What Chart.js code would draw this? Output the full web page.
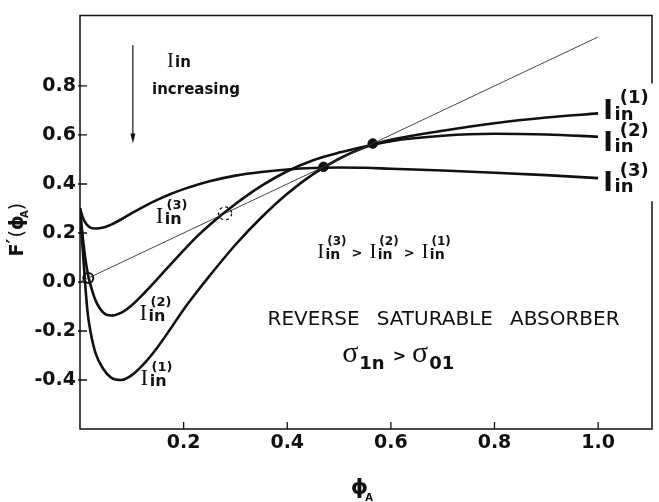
<!DOCTYPE html>
<html lang="en">
<head>
<meta charset="UTF-8">
<title>Reverse saturable absorber</title>
<script src="https://cdn.jsdelivr.net/npm/chart.js"></script>
<style>
  html, body { margin: 0; padding: 0; background: #fff; }
</style>
</head>
<body>
<canvas id="graph" width="659" height="502"></canvas>
<script>
// phi_A sample points shared by the three curves
const phi = [0, 0.005, 0.01, 0.015, 0.02, 0.03, 0.045, 0.06, 0.08, 0.1, 0.125, 0.15, 0.175, 0.2,
  0.225, 0.25, 0.3, 0.35, 0.4, 0.45, 0.5, 0.55, 0.6, 0.7, 0.8, 0.9, 1.0];
// F'(phi_A) for the three input intensities
const fIn1 = [0.30, 0.14, -0.01, -0.13, -0.20, -0.29, -0.355, -0.39, -0.40, -0.38, -0.33, -0.265, -0.19, -0.112,
  -0.042, 0.025, 0.152, 0.263, 0.36, 0.44, 0.503, 0.55, 0.58, 0.617, 0.648, 0.671, 0.688];
const fIn2 = [0.30, 0.19, 0.10, 0.035, -0.01, -0.075, -0.125, -0.137, -0.125, -0.095, -0.043, 0.014, 0.072, 0.129,
  0.184, 0.233, 0.318, 0.392, 0.452, 0.497, 0.528, 0.553, 0.575, 0.597, 0.605, 0.602, 0.593];
const fIn3 = [0.30, 0.265, 0.243, 0.23, 0.222, 0.218, 0.222, 0.234, 0.256, 0.281, 0.31, 0.336, 0.359, 0.379,
  0.396, 0.411, 0.434, 0.449, 0.459, 0.465, 0.467, 0.466, 0.462, 0.455, 0.446, 0.436, 0.424];
// the line F' = phi_A and the marked crossings on it
const diagonal = [0, 1.0];
const stablePoints = [0.47, 0.565];
const openPoint = [0.016];
const unstablePoint = [0.28];
const xTicks = [0.2, 0.4, 0.6, 0.8, 1.0];
const yTicks = [-0.4, -0.2, 0.0, 0.2, 0.4, 0.6, 0.8];

const ink = '#111';
const SANS = '"DejaVu Sans"';
const SERIF = '"Liberation Serif"';

function put(ctx, text, font, x, y) {
  ctx.font = font;
  ctx.fillText(text, x, y);
  return x + ctx.measureText(text).width;
}

// I with "in" as subscript and (k) stacked above it
function iLabel(ctx, x, y, k, s, serif, supScale = 0.55, supDx = 0.08, supDy = 0.62) {
  const iFont = serif ? `${s}px ${SERIF}` : `bold ${s}px ${SANS}`;
  const x1 = put(ctx, 'I', iFont, x, y) + s * 0.06;
  const x2 = put(ctx, 'in', `bold ${Math.round(s * 0.68)}px ${SANS}`, x1, y + s * 0.04);
  const x3 = put(ctx, `(${k})`, `bold ${Math.round(s * supScale)}px ${SANS}`, x1 + s * supDx, y - s * supDy);
  return Math.max(x2, x3);
}

const decor = {
  id: 'decor',
  afterDraw(chart) {
    const { ctx, chartArea: a, scales: { x, y } } = chart;
    const px = v => x.getPixelForValue(v);
    const py = v => y.getPixelForValue(v);
    ctx.save();
    ctx.strokeStyle = ink;
    ctx.fillStyle = ink;
    ctx.textBaseline = 'alphabetic';

    // frame, right side broken where the curve labels sit
    ctx.lineWidth = 1.5;
    ctx.beginPath();
    ctx.moveTo(a.right, py(0.33));
    ctx.lineTo(a.right, a.bottom);
    ctx.lineTo(a.left, a.bottom);
    ctx.lineTo(a.left, a.top);
    ctx.lineTo(a.right, a.top);
    ctx.lineTo(a.right, py(0.81));
    ctx.stroke();

    // inward ticks
    ctx.lineWidth = 1.3;
    ctx.beginPath();
    xTicks.forEach(v => { ctx.moveTo(px(v), a.bottom); ctx.lineTo(px(v), a.bottom - 7); });
    yTicks.forEach(v => { ctx.moveTo(a.left - 2, py(v)); ctx.lineTo(a.left + 7, py(v)); });
    ctx.stroke();

    // dashed circle at the unstable crossing
    ctx.lineWidth = 1.3;
    ctx.setLineDash([3, 3]);
    unstablePoint.forEach(v => {
      ctx.beginPath();
      ctx.arc(px(v), py(v), 6.5, 0, Math.PI * 2);
      ctx.stroke();
    });
    ctx.setLineDash([]);

    // arrow
    ctx.lineWidth = 1.2;
    const ax = px(0.102), ay0 = py(0.966), ay1 = py(0.565);
    ctx.beginPath();
    ctx.moveTo(ax, ay0);
    ctx.lineTo(ax, ay1 - 6);
    ctx.stroke();
    ctx.beginPath();
    ctx.moveTo(ax - 2.5, ay1 - 10);
    ctx.lineTo(ax + 2.5, ay1 - 10);
    ctx.lineTo(ax, ay1);
    ctx.closePath();
    ctx.fill();

    // "I_in increasing"
    const xi = put(ctx, 'I', `21px ${SERIF}`, px(0.168), py(0.877)) + 1;
    put(ctx, 'in', `bold 15px ${SANS}`, xi, py(0.877));
    put(ctx, 'increasing', `bold 15px ${SANS}`, px(0.139), py(0.767));

    // labels next to the curves
    iLabel(ctx, px(0.146), py(0.24), 3, 23, true);
    iLabel(ctx, px(0.115), py(-0.157), 2, 23, true);
    iLabel(ctx, px(0.117), py(-0.42), 1, 23, true);

    // ordering of the intensities
    let cx = px(0.458);
    const cy = py(0.099);
    [3, 2, 1].forEach((k, i) => {
      cx = iLabel(ctx, cx, cy, k, 21, true);
      if (i < 2) cx = put(ctx, '>', `bold 13px ${SANS}`, cx + 5, cy - 1) + 7;
    });

    // REVERSE SATURABLE ABSORBER
    let wx = px(0.362);
    ['REVERSE', 'SATURABLE', 'ABSORBER'].forEach(w => {
      wx = put(ctx, w, `20px ${SANS}`, wx, py(-0.177)) + 17;
    });

    // sigma_1n > sigma_01
    const sy = py(-0.327);
    let sx = put(ctx, 'σ', `30px ${SERIF}`, px(0.506), sy) + 1;
    sx = put(ctx, '1n', `bold 18px ${SANS}`, sx, sy + 7);
    sx = put(ctx, '>', `bold 16px ${SANS}`, sx + 8, sy - 1);
    sx = put(ctx, 'σ', `30px ${SERIF}`, sx + 6, sy) + 1;
    put(ctx, '01', `bold 18px ${SANS}`, sx, sy + 7);

    // curve labels at the right end
    iLabel(ctx, px(1.01), py(0.666), 1, 26, false, 0.7, 0.2, 0.6);
    iLabel(ctx, px(1.01), py(0.533), 2, 26, false, 0.7, 0.2, 0.6);
    iLabel(ctx, px(1.01), py(0.37), 3, 26, false, 0.7, 0.2, 0.6);

    // axis titles
    const tx = px(0.54) - 9;
    const ex = put(ctx, 'ϕ', `bold 22px ${SANS}`, tx, 494);
    put(ctx, 'A', `bold 10px ${SANS}`, ex - 3, 501);

    ctx.translate(23, py(0.21));
    ctx.rotate(-Math.PI / 2);
    let fx = -26;
    fx = put(ctx, 'F', `bold 19px ${SANS}`, fx, 0);
    fx = put(ctx, '′', `bold 19px ${SANS}`, fx, -3);
    fx = put(ctx, '(', `19px ${SANS}`, fx + 1, 0);
    fx = put(ctx, 'ϕ', `bold 19px ${SANS}`, fx, 0);
    fx = put(ctx, 'A', `bold 10px ${SANS}`, fx - 3, 5);
    put(ctx, ')', `19px ${SANS}`, fx, 0);

    ctx.restore();
  }
};

const curve = (vals) => phi.map((v, i) => ({ x: v, y: vals[i] }));
const curveStyle = {
  showLine: true,
  borderColor: ink,
  borderWidth: 2.6,
  pointRadius: 0,
  cubicInterpolationMode: 'monotone'
};

new Chart(document.getElementById('graph').getContext('2d'), {
  type: 'scatter',
  data: {
    datasets: [
      {
        data: diagonal.map(v => ({ x: v, y: v })),
        showLine: true, borderColor: '#333', borderWidth: 0.9, pointRadius: 0
      },
      { data: curve(fIn1), ...curveStyle },
      { data: curve(fIn2), ...curveStyle },
      { data: curve(fIn3), ...curveStyle },
      {
        data: stablePoints.map(v => ({ x: v, y: v })),
        pointRadius: 4.8, backgroundColor: ink, borderColor: ink, clip: false
      },
      {
        data: openPoint.map(v => ({ x: v, y: v })),
        pointRadius: 5, borderWidth: 2, backgroundColor: 'rgba(0,0,0,0)', borderColor: ink, clip: false
      }
    ]
  },
  options: {
    responsive: false,
    animation: false,
    devicePixelRatio: 1,
    layout: { padding: { top: 13, right: 5, left: 0, bottom: 0 } },
    plugins: { legend: { display: false }, tooltip: { enabled: false } },
    scales: {
      x: {
        type: 'linear', min: 0, max: 1.104,
        afterBuildTicks: s => { s.ticks = xTicks.map(v => ({ value: v })); },
        afterFit: s => { s.height = 73; },
        grid: { display: false, drawTicks: false },
        border: { display: false },
        ticks: {
          color: ink, padding: 3, autoSkip: false, maxRotation: 0,
          font: { family: 'DejaVu Sans', size: 19, weight: 'bold' },
          callback: v => v.toFixed(1)
        }
      },
      y: {
        type: 'linear', min: -0.6, max: 1.088,
        afterBuildTicks: s => { s.ticks = yTicks.map(v => ({ value: v })); },
        afterFit: s => { s.width = 80; },
        grid: { display: false, drawTicks: false },
        border: { display: false },
        ticks: {
          color: ink, padding: 4, autoSkip: false,
          font: { family: 'DejaVu Sans', size: 19, weight: 'bold' },
          callback: v => v.toFixed(1)
        }
      }
    }
  },
  plugins: [decor]
});
</script>
</body>
</html>
